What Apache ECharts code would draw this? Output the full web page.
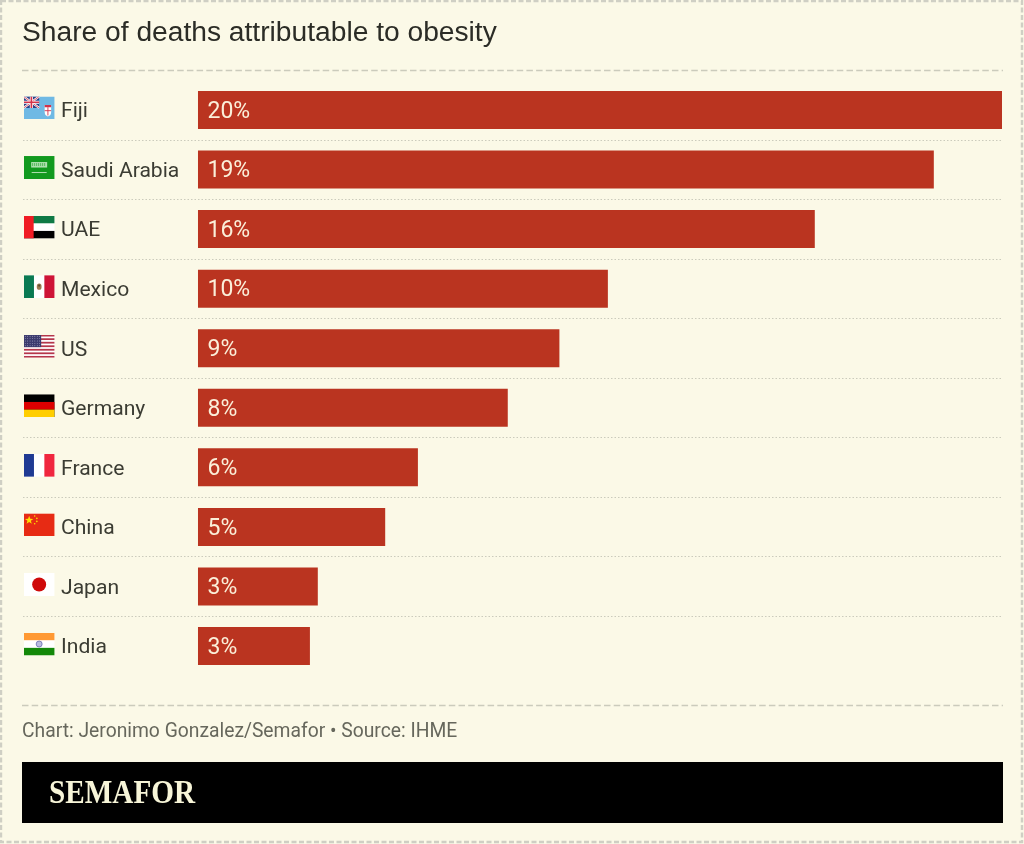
<!DOCTYPE html>
<html>
<head>
<meta charset="utf-8">
<style>html,body{margin:0;padding:0;background:#FBF9E7;overflow:hidden}#c{width:1024px;height:844px}</style>
<script src="https://cdn.jsdelivr.net/npm/echarts@6/dist/echarts.min.js"></script>
</head>
<body>
<div id="c"></div>
<script>
const countries = ['Fiji','Saudi Arabia','UAE','Mexico','US','Germany','France','China','Japan','India'];
const shares = [20.4,18.67,15.65,10.4,9.17,7.86,5.58,4.75,3.04,2.84];
const titleText = 'Share of deaths attributable to obesity';
const footerText = 'Chart: Jeronimo Gonzalez/Semafor • Source: IHME';
const brandText = 'SEMAFOR';

function svg(body){
  return 'image://data:image/svg+xml;charset=utf-8,' + encodeURIComponent(
    '<svg xmlns="http://www.w3.org/2000/svg" width="124" height="92" viewBox="0 0 31 23">' + body + '</svg>');
}
function usStripes(){
  let s = '<rect width="31" height="23" fill="#fff"/>';
  for (let i = 0; i < 7; i++) s += '<rect y="' + (i*23/6.5).toFixed(2) + '" width="31" height="1.77" fill="#B5364A"/>';
  s += '<rect width="17.5" height="12.4" fill="#3C3B6E"/>';
  for (let r = 0; r < 5; r++) for (let c = 0; c < 7; c++)
    s += '<circle cx="' + (1.6+c*2.4) + '" cy="' + (1.5+r*2.4) + '" r=".45" fill="#cfd0e6"/>';
  return s;
}
const flags = [
  svg('<rect width="31" height="23" fill="#6FB9E4"/><rect width="15.5" height="11.5" fill="#2A3F86"/><path d="M0 0L15.5 11.5M15.5 0L0 11.5" stroke="#fff" stroke-width="2.2"/><path d="M0 0L15.5 11.5M15.5 0L0 11.5" stroke="#D3324A" stroke-width=".8"/><path d="M7.75 0V11.5M0 5.75H15.5" stroke="#fff" stroke-width="3.2"/><path d="M7.75 0V11.5M0 5.75H15.5" stroke="#D3324A" stroke-width="1.7"/><path d="M21 8.5h6.5v7q0 3.5-3.25 4.5q-3.25-1-3.25-4.5z" fill="#fff"/><path d="M21 8.5h6.5v2.2H21z" fill="#D3324A"/><path d="M24.25 10.7V19M21 14.2h6.5" stroke="#D3324A" stroke-width=".9"/>'),
  svg('<rect width="31" height="23" fill="#129A1F"/><rect x="7.5" y="6" width="16" height="5.5" fill="#cdeccb" opacity=".85"/><path d="M9 7v3M11 7v3M13 7v3M15 7v3M17 7v3M19 7v3M21 7v3" stroke="#129A1F" stroke-width=".6"/><path d="M8 16.5H23" stroke="#d8f0d6" stroke-width=".8"/>'),
  svg('<rect width="31" height="23" fill="#fff"/><rect width="31" height="7.67" fill="#0F7A45"/><rect y="15.33" width="31" height="7.67" fill="#000"/><rect width="10" height="23" fill="#F01C24"/>'),
  svg('<rect width="31" height="23" fill="#fff"/><rect width="10.3" height="23" fill="#0A7A52"/><rect x="20.7" width="10.3" height="23" fill="#CE1436"/><ellipse cx="15.5" cy="11.5" rx="2.4" ry="3.2" fill="#9B7A50"/><circle cx="15.5" cy="10.4" r="1.1" fill="#5e4a30"/>'),
  svg(usStripes()),
  svg('<rect width="31" height="23" fill="#000"/><rect y="7.67" width="31" height="7.67" fill="#DD0000"/><rect y="15.33" width="31" height="7.67" fill="#FFCE00"/>'),
  svg('<rect width="31" height="23" fill="#fff"/><rect width="10.3" height="23" fill="#1F3A93"/><rect x="20.7" width="10.3" height="23" fill="#F0273F"/>'),
  svg('<rect width="31" height="23" fill="#E72B14"/><path d="M5.5 2.4l1.1 3 3.1.1-2.5 1.9.9 3-2.6-1.8-2.6 1.8.9-3L1.3 5.5l3.1-.1z" fill="#FFDE00"/><circle cx="11" cy="2.6" r=".8" fill="#FFDE00"/><circle cx="13.2" cy="5" r=".8" fill="#FFDE00"/><circle cx="13.2" cy="8" r=".8" fill="#FFDE00"/><circle cx="11" cy="10.4" r=".8" fill="#FFDE00"/>'),
  svg('<rect width="31" height="23" fill="#FFFFFF"/><circle cx="15.5" cy="11.5" r="7" fill="#CF0A0A"/>'),
  svg('<rect width="31" height="23" fill="#fff"/><rect width="31" height="7.67" fill="#FF9933"/><rect y="15.33" width="31" height="7.67" fill="#138808"/><circle cx="15.5" cy="11.5" r="3" fill="#B9BBDD" stroke="#5A5FA8" stroke-width=".7"/>')
];

const bg = '#FBF9E7', ink = '#3B3C33', border = '#CFCFC4', rule = '#CBCBBC';
const chart = echarts.init(document.getElementById('c'), null, {renderer:'canvas', width:1024, height:844});
chart.setOption({
  animation:false,
  backgroundColor:bg,
  title:[
    {text:titleText,left:22,top:19,padding:0,textStyle:{fontFamily:'Liberation Sans',fontSize:28.2,fontWeight:'normal',color:'#2B2C26'}},
    {text:footerText,left:22,top:723,padding:0,textStyle:{fontFamily:'Roboto',fontSize:19.3,fontWeight:'normal',color:'#66675C'}}
  ],
  grid:{left:23,right:22,top:80.2,height:595.6,containLabel:false},
  xAxis:{type:'value',min:-4.44,max:20.4,show:false,splitLine:{show:false}},
  yAxis:{
    type:'category',inverse:true,data:countries,
    axisLine:{show:false,onZero:false},axisTick:{show:false},
    axisLabel:{inside:true,margin:38,interval:0,formatter:v=>'{a|'+v+'}',
      rich:{a:{padding:[4,0,0,0],fontFamily:'Roboto',fontSize:21.1,color:ink}}},
    splitLine:{show:true,interval:0,showMinLine:false,showMaxLine:false,lineStyle:{type:[1.5,2],color:rule,width:1}}
  },
  series:[
    {type:'bar',data:shares,barWidth:38,itemStyle:{color:'#BA3420'},silent:true,
     label:{show:true,position:'insideLeft',distance:9.5,offset:[0,2],fontFamily:'Roboto',fontSize:23,color:'#FBEFD9',
       formatter:p=>Math.round(p.value)+'%'}},
    {type:'scatter',silent:true,z:5,symbolSize:[31,23],symbolOffset:[0,-2],itemStyle:{opacity:1},
     data:countries.map((c,i)=>({value:[-4.03,c],symbol:flags[i]}))}
  ],
  graphic:[
    {type:'rect',z:-1,shape:{x:1,y:1,width:1021,height:841},style:{fill:'none',stroke:border,lineWidth:2.4,lineDash:[5,2.5]}},
    {type:'line',shape:{x1:22,y1:70.5,x2:1003,y2:70.5},style:{stroke:rule,lineWidth:1.4,lineDash:[6.5,3.2]}},
    {type:'line',shape:{x1:22,y1:705.5,x2:1003,y2:705.5},style:{stroke:rule,lineWidth:1.4,lineDash:[6.5,3.2]}},
    {type:'rect',z:1,shape:{x:22,y:762,width:981,height:61},style:{fill:'#000'}},
    {type:'text',z:2,x:49,y:794.5,scaleX:0.885,style:{text:brandText,fontFamily:'Liberation Serif',fontSize:33,fontWeight:'bold',fill:'#F7F5D8',textAlign:'left',textVerticalAlign:'middle'}}
  ]
});
</script>
</body>
</html>
